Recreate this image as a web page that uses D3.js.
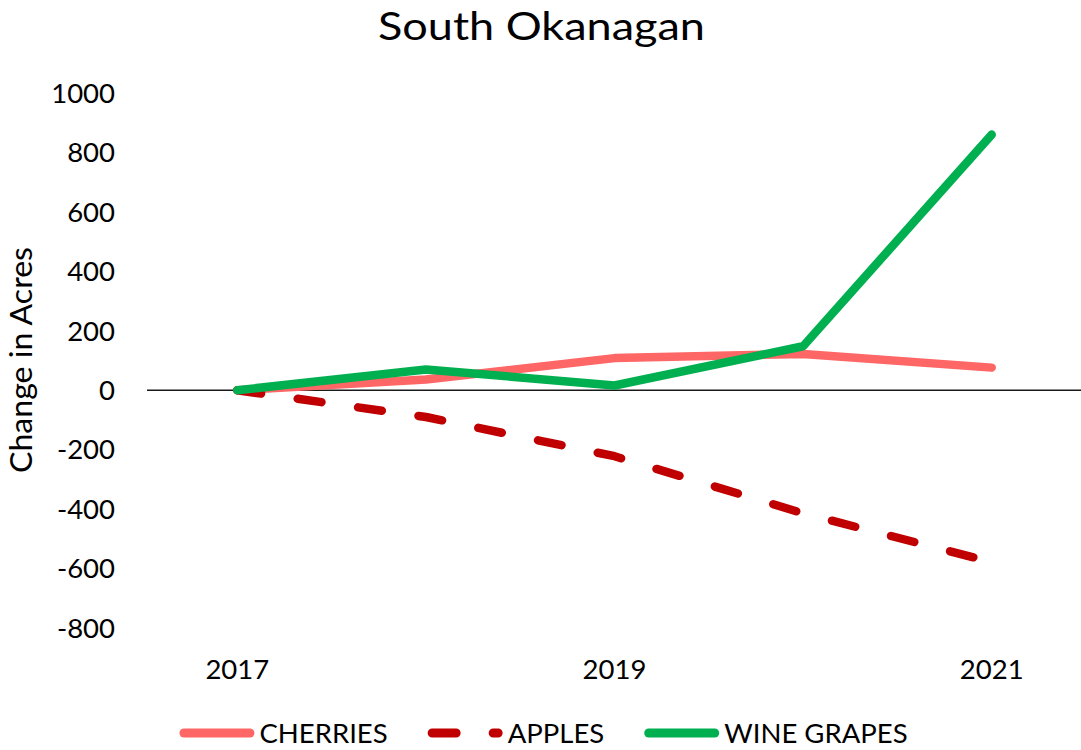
<!DOCTYPE html>
<html>
<head>
<meta charset="utf-8">
<script src="https://cdn.jsdelivr.net/npm/d3@7"></script>
<style>
	body { margin: 0; background: #fff; }
	svg text { font-family: Lato, 'Open Sans', sans-serif; fill: #000; }
</style>
</head>
<body>
<div id="chart"></div>
<script>
// Chart data
const years = ['2017', '2018', '2019', '2020', '2021'];
const tickYears = ['2017', '2019', '2021'];
const yTicks = [-800, -600, -400, -200, 0, 200, 400, 600, 800, 1000];
const seriesNames = ['CHERRIES', 'APPLES', 'WINE GRAPES'];
const cherries = [0, 36, 108, 122, 76];
const apples = [0, -90, -222, -414, -578];
const wineGrapes = [0, 70, 16, 148, 860];

const series = [
	{ name: seriesNames[0], values: cherries, color: '#FF6666', dash: null },
	{ name: seriesNames[1], values: apples, color: '#C00000', dash: '24,37' },
	{ name: seriesNames[2], values: wineGrapes, color: '#00B050', dash: null }
];

// Dimensions
const width = 1081;
const height = 750;
const lineWidth = 8.5;

const svg = d3
	.select('#chart')
	.append('svg')
	.attr('width', width)
	.attr('height', height)
	.attr('viewBox', [0, 0, width, height]);

// Scales
const x = d3.scalePoint().domain(years).range([143, 1086]).padding(0.5);
const y = d3.scaleLinear().domain([-800, 1000]).range([628, 93]);

// stretch a text to a given width
function fitWidth(sel, target) {
	sel.attr('textLength', target).attr('lengthAdjust', 'spacingAndGlyphs');
}

// Title
svg
	.append('text')
	.attr('x', 541.5)
	.attr('y', 40)
	.attr('text-anchor', 'middle')
	.style('font-size', '38px')
	.text('South Okanagan')
	.call(fitWidth, 327);

// Y axis labels
svg
	.append('g')
	.selectAll('text')
	.data(yTicks)
	.join('text')
	.attr('x', 115)
	.attr('y', (d) => y(d) + 9.8)
	.attr('text-anchor', 'end')
	.style('font-size', '27.5px')
	.text((d) => d);

svg
	.append('text')
	.attr('transform', 'translate(' + [32, 360] + ') rotate(-90)')
	.attr('text-anchor', 'middle')
	.style('font-size', '30px')
	.text('Change in Acres')
	.call(fitWidth, 226);

// X axis labels
svg
	.append('g')
	.selectAll('text')
	.data(tickYears)
	.join('text')
	.attr('x', (d) => x(d))
	.attr('y', 679)
	.attr('text-anchor', 'middle')
	.style('font-size', '27.5px')
	.text((d) => d);

// Zero line
svg
	.append('line')
	.attr('x1', 147)
	.attr('x2', width)
	.attr('y1', y(0))
	.attr('y2', y(0))
	.attr('stroke', '#1a1a1a')
	.attr('stroke-width', 1.6);

// Lines
const line = d3
	.line()
	.x((d, i) => x(years[i]))
	.y((d) => y(d));

svg
	.append('g')
	.selectAll('path')
	.data(series)
	.join('path')
	.attr('d', (d) => line(d.values))
	.attr('fill', 'none')
	.attr('stroke', (d) => d.color)
	.attr('stroke-width', lineWidth)
	.attr('stroke-linecap', 'round')
	.attr('stroke-linejoin', 'round')
	.attr('stroke-dasharray', (d) => d.dash);

// Legend
const legend = svg.append('g');
const legendY = 733;
const swatch = 75;
let cursor = 0;
series.forEach((s) => {
	const g = legend.append('g');
	g.append('line')
		.attr('x1', 4.5)
		.attr('x2', swatch - 4.5)
		.attr('y1', legendY)
		.attr('y2', legendY)
		.attr('stroke', s.color)
		.attr('stroke-width', lineWidth + 0.5)
		.attr('stroke-linecap', 'round')
		.attr('stroke-dasharray', s.dash);
	const t = g
		.append('text')
		.attr('x', swatch + 5)
		.attr('y', legendY + 10)
		.style('font-size', '27.5px')
		.text(s.name);
	const w = swatch + 5 + t.node().getComputedTextLength();
	g.attr('transform', 'translate(' + cursor + ',0)');
	cursor += w + 40;
});
const legendWidth = cursor - 40;
legend.attr('transform', 'translate(' + (543.5 - legendWidth / 2) + ',0)');
</script>
</body>
</html>
